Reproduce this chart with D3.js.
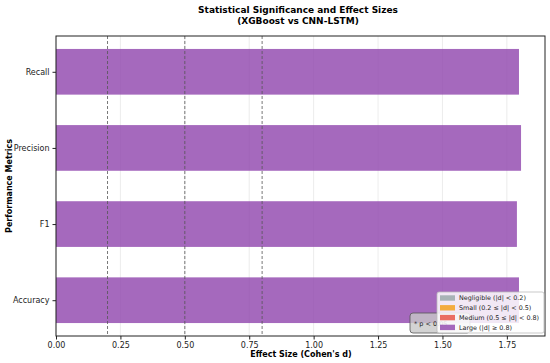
<!DOCTYPE html>
<html><head><meta charset="utf-8">
<script src="https://cdn.jsdelivr.net/npm/d3@7"></script>
<style>body{margin:0;background:#fff}svg{display:block;font-family:"DejaVu Sans",sans-serif}</style>
</head><body><svg id="c" width="550" height="363"></svg>
<script>
const metrics = ["Accuracy", "F1", "Precision", "Recall"];
const effectSizes = [1.797, 1.789, 1.805, 1.797];
const xTicks = [0, 0.25, 0.5, 0.75, 1.0, 1.25, 1.5, 1.75];
const thresholds = [0.2, 0.5, 0.8];
const legendLabels = ["Negligible (|d| < 0.2)", "Small (0.2 ≤ |d| < 0.5)", "Medium (0.5 ≤ |d| < 0.8)", "Large (|d| ≥ 0.8)"];
const legendColors = ["#95a5a6", "#f39c12", "#e74c3c", "#8e44ad"];

const svg = d3.select("#c");
const L = 56, R = 545, T = 36, B = 336;
const x = d3.scaleLinear().domain([0, 1.898]).range([L, R]);
const y = d3.scaleLinear().domain([-0.47, 3.47]).range([B, T]);

// grid
svg.append("g").selectAll("line").data(xTicks).join("line")
  .attr("x1", d => x(d)).attr("x2", d => x(d)).attr("y1", T).attr("y2", B)
  .attr("stroke", "#b0b0b0").attr("stroke-opacity", 0.3).attr("stroke-width", 0.8);

// bars
const bh = y(0) - y(0.6);
svg.append("g").selectAll("rect").data(effectSizes).join("rect")
  .attr("x", x(0)).attr("y", (d, i) => y(i + 0.3))
  .attr("width", d => x(d) - x(0)).attr("height", bh)
  .attr("fill", "#8e44ad").attr("fill-opacity", 0.8);

// threshold lines
svg.append("g").selectAll("line").data(thresholds).join("line")
  .attr("x1", d => x(d)).attr("x2", d => x(d)).attr("y1", T).attr("y2", B)
  .attr("stroke", "#555").attr("stroke-width", 0.8).attr("stroke-dasharray", "3,2");

// frame
svg.append("rect").attr("x", L).attr("y", T).attr("width", R - L).attr("height", B - T)
  .attr("fill", "none").attr("stroke", "#222").attr("stroke-width", 1);

// axes
const xa = svg.append("g").attr("transform", `translate(0,${B})`)
  .call(d3.axisBottom(x).tickValues(xTicks).tickFormat(d3.format(".2f")).tickSize(3.5).tickPadding(3));
const ya = svg.append("g").attr("transform", `translate(${L},0)`)
  .call(d3.axisLeft(y).tickValues(d3.range(metrics.length)).tickFormat(i => metrics[i]).tickSize(3.5).tickPadding(3));
[xa, ya].forEach(a => {
  a.select(".domain").remove();
  a.selectAll("text").attr("font-size", 8).attr("fill", "#222").attr("font-family", "DejaVu Sans");
  a.selectAll("line").attr("stroke", "#222");
});

// title
svg.append("text").attr("x", 298).attr("y", 13).attr("text-anchor", "middle")
  .attr("font-size", 9).attr("font-weight", "bold").text("Statistical Significance and Effect Sizes");
svg.append("text").attr("x", 298).attr("y", 24).attr("text-anchor", "middle")
  .attr("font-size", 9).attr("font-weight", "bold").text("(XGBoost vs CNN-LSTM)");
svg.append("text").attr("x", 301).attr("y", 357).attr("text-anchor", "middle")
  .attr("font-size", 8).attr("font-weight", "bold").text("Effect Size (Cohen's d)");
svg.append("text").attr("transform", `translate(12,${(T + B) / 2}) rotate(-90)`).attr("text-anchor", "middle")
  .attr("font-size", 8).attr("font-weight", "bold").text("Performance Metrics");

// p-value box
const pb = svg.append("g");
pb.append("rect").attr("x", 410).attr("y", 313).attr("width", 60).attr("height", 20).attr("rx", 3)
  .attr("fill", "#c8c8c8").attr("fill-opacity", 0.8).attr("stroke", "#555").attr("stroke-width", 0.8);
pb.append("text").attr("x", 414).attr("y", 326).attr("font-size", 6.5).attr("fill", "#222").text("* p < 0.05");

// legend
const lg = svg.append("g");
lg.append("rect").attr("x", 437).attr("y", 292).attr("width", 107).attr("height", 41).attr("rx", 2)
  .attr("fill", "#fff").attr("fill-opacity", 0.85).attr("stroke", "#bbb").attr("stroke-width", 0.8);
legendLabels.forEach((t, i) => {
  const cy = 298 + i * 9.8;
  lg.append("rect").attr("x", 440).attr("y", cy - 2.7).attr("width", 15).attr("height", 5.4)
    .attr("fill", legendColors[i]).attr("fill-opacity", 0.8);
  lg.append("text").attr("x", 459).attr("y", cy + 2.3).attr("font-size", 6.4).attr("fill", "#222").text(t);
});
</script></body></html>
